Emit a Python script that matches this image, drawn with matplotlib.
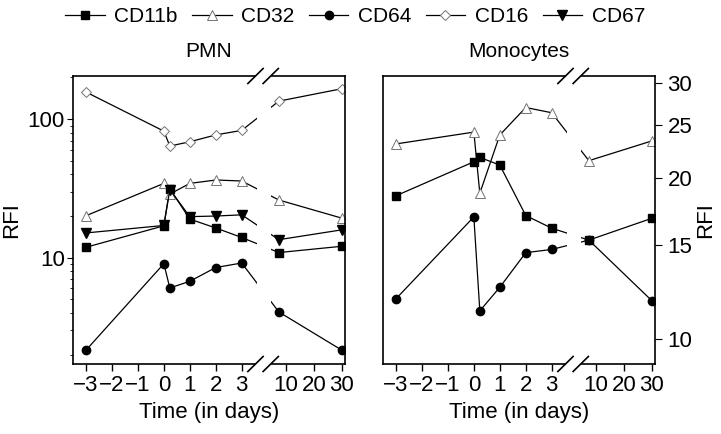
import numpy as np
import matplotlib
matplotlib.use("Agg")
import matplotlib.pyplot as plt
from matplotlib.ticker import NullLocator, NullFormatter, FixedLocator

plt.rcParams['font.family'] = ['Liberation Sans', 'DejaVu Sans']

# time points (days)
TIMES = [-3, 0, 0.23, 1, 2, 3, 7.5, 30]
XTICKS = [-3, -2, -1, 0, 1, 2, 3, 10, 20, 30]
XTICK_LABELS = ["\u22123", "\u22122", "\u22121", "0", "1", "2", "3", "10", "20", "30"]

# PMN
pmn_cd11b = [11.9, 17.0, 31.5, 19.0, 16.4, 14.0, 10.9, 12.1]
pmn_cd32 = [20.1, 34.4, 28.8, 34.4, 36.4, 35.8, 26.1, 19.3]
pmn_cd64 = [2.15, 9.06, 6.05, 6.76, 8.5, 9.16, 4.06, 2.15]
pmn_cd16 = [157, 82, 64, 68.7, 77, 83, 135, 166]
pmn_cd67 = [15.1, 17.1, 31.0, 19.8, 20.0, 20.4, 13.5, 15.9]

# Monocytes
mono_cd11b = [18.5, 21.4, 21.8, 21.1, 17.0, 16.1, 15.3, 16.8]
mono_cd32 = [23.1, 24.3, 18.7, 24.0, 27.0, 26.4, 21.5, 23.4]
mono_cd64 = [11.9, 16.9, 11.3, 12.5, 14.5, 14.7, 15.3, 11.8]


def fwd(t):
    t = np.asarray(t, float)
    return np.where(t <= 3, t,
                    np.where(t <= 7.5, 3 + (t - 3) * 0.318, 4.43 + (t - 7.5) * 0.108))


def inv(x):
    x = np.asarray(x, float)
    return np.where(x <= 3, x,
                    np.where(x <= 4.43, 3 + (x - 3) / 0.318, 7.5 + (x - 4.43) / 0.108))


styles = {
    "CD11b": dict(marker="s", ms=6, mfc="black", mec="black"),
    "CD32": dict(marker="^", ms=7.5, mfc="white", mec="0.45", mew=0.7),
    "CD64": dict(marker="o", ms=6, mfc="black", mec="black"),
    "CD16": dict(marker="D", ms=5.5, mfc="white", mec="0.45", mew=0.7),
    "CD67": dict(marker="v", ms=6.5, mfc="black", mec="black"),
}

fig = plt.figure(figsize=(7.21, 4.34), dpi=100)
ax1 = fig.add_axes([73 / 721, 70 / 434, 272 / 721, 288 / 434])
ax2 = fig.add_axes([383 / 721, 70 / 434, 272 / 721, 288 / 434])


def setup(ax):
    ax.set_xscale("function", functions=(fwd, inv))
    ax.set_yscale("log")
    ax.set_xlim(-3.5, 31.1)
    ax.xaxis.set_major_locator(FixedLocator(XTICKS))
    ax.set_xticklabels(XTICK_LABELS)
    ax.xaxis.set_minor_locator(NullLocator())
    ax.tick_params(axis="x", direction="out", length=5, width=1, labelsize=16, pad=3)
    ax.set_xlabel("Time (in days)", fontsize=16, labelpad=4)
    # white band for the axis break
    ax.axvspan(4.8, 6.55, color="white", zorder=2.1, lw=0)
    # spines with gap and break marks
    ax.spines["top"].set_visible(False)
    ax.spines["bottom"].set_visible(False)
    for y in (0, 1):
        ax.plot([0, 0.67], [y, y], transform=ax.transAxes, color="black", lw=1.2,
                clip_on=False, zorder=3)
        ax.plot([0.73, 1], [y, y], transform=ax.transAxes, color="black", lw=1.2,
                clip_on=False, zorder=3)
        for x0 in (0.643, 0.699):
            ax.plot([x0, x0 + 0.056], [y - 0.026, y + 0.026], transform=ax.transAxes,
                    color="black", lw=1.2, clip_on=False, zorder=3)
    for s in ("left", "right"):
        ax.spines[s].set_linewidth(1.2)


def draw(ax, name, vals):
    ax.plot(TIMES, vals, color="black", lw=0.9, label=name, zorder=2, **styles[name])


setup(ax1)
draw(ax1, "CD11b", pmn_cd11b)
draw(ax1, "CD32", pmn_cd32)
draw(ax1, "CD64", pmn_cd64)
draw(ax1, "CD16", pmn_cd16)
draw(ax1, "CD67", pmn_cd67)
ax1.set_ylim(1.71, 205)
ax1.set_yticks([10, 100])
ax1.set_yticklabels(["10", "100"])
ax1.yaxis.set_minor_formatter(NullFormatter())
ax1.tick_params(axis="y", which="major", direction="out", length=4, labelsize=16, pad=2)
ax1.tick_params(axis="y", which="minor", direction="out", length=2.5)
ax1.set_ylabel("RFI", fontsize=16, labelpad=4)
ax1.set_title("PMN", fontsize=15, pad=14)

setup(ax2)
draw(ax2, "CD11b", mono_cd11b)
draw(ax2, "CD32", mono_cd32)
draw(ax2, "CD64", mono_cd64)
ax2.set_ylim(9.0, 30.9)
ax2.yaxis.tick_right()
ax2.yaxis.set_label_position("right")
ax2.set_yticks([10, 15, 20, 25, 30])
ax2.set_yticklabels(["10", "15", "20", "25", "30"])
ax2.yaxis.set_minor_locator(NullLocator())
ax2.tick_params(axis="y", direction="out", length=5, labelsize=16, pad=4)
ax2.set_ylabel("RFI", fontsize=16, labelpad=2)
ax2.set_title("Monocytes", fontsize=15, pad=14)

handles, labels = ax1.get_legend_handles_labels()
fig.legend(handles, labels, loc="center", bbox_to_anchor=(355 / 721, 1 - 17 / 434),
           ncol=5, frameon=False, fontsize=15, handlelength=1.9, handletextpad=0.45,
           columnspacing=0.7, borderaxespad=0)

fig.savefig("out.png", dpi=100)
